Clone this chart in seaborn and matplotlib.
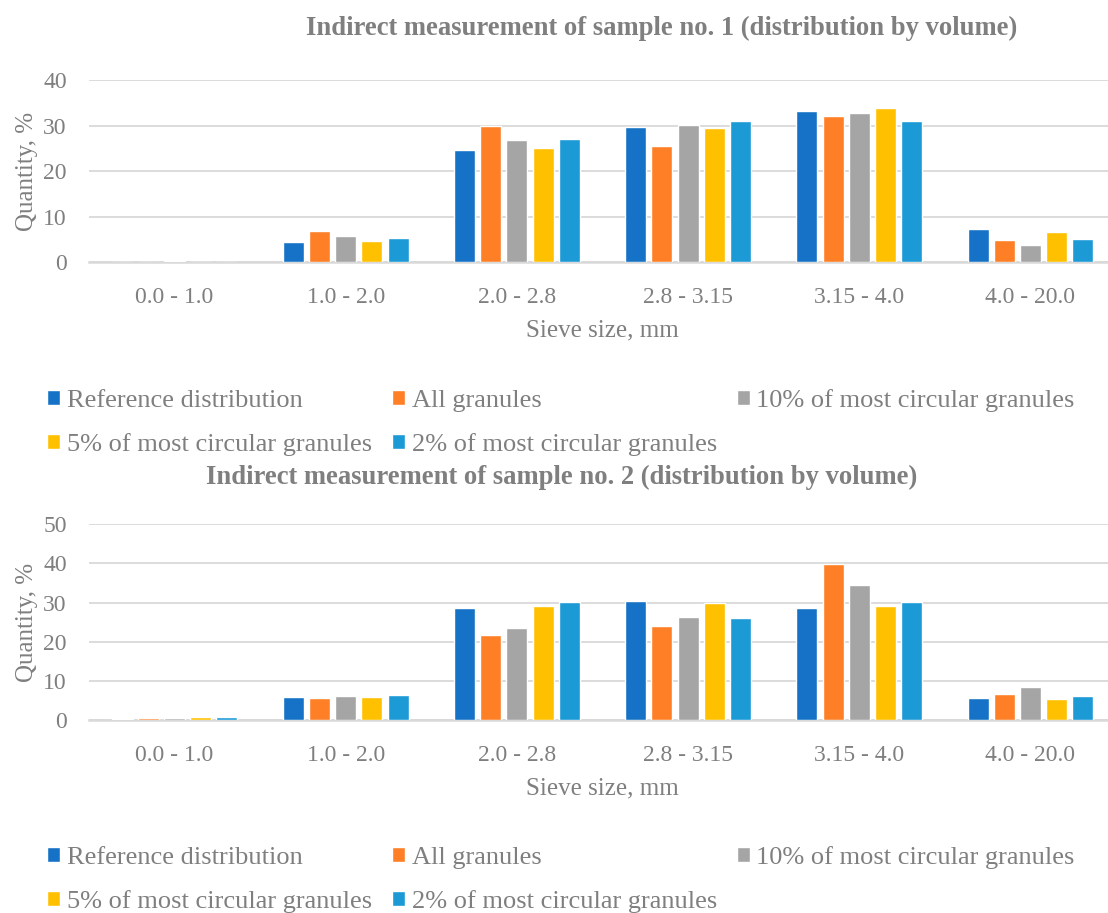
import matplotlib
matplotlib.use("Agg")
import matplotlib.pyplot as plt
import seaborn as sns
import pandas as pd

# Sieve fractions (mm) and measured volume shares (%)
sieve_sizes = ["0.0 - 1.0", "1.0 - 2.0", "2.0 - 2.8", "2.8 - 3.15", "3.15 - 4.0", "4.0 - 20.0"]
series_names = [
    "Reference distribution",
    "All granules",
    "10% of most circular granules",
    "5% of most circular granules",
    "2% of most circular granules",
]

# Sample no. 1
s1_reference = [0.0, 4.4, 24.6, 29.7, 33.3, 7.4]
s1_all = [0.0, 6.9, 30.0, 25.6, 32.2, 4.9]
s1_top10 = [0.3, 5.8, 26.9, 30.1, 32.7, 3.8]
s1_top5 = [0.0, 4.7, 25.1, 29.5, 33.8, 6.6]
s1_top2 = [0.15, 5.3, 27.0, 31.1, 30.9, 5.1]

# Sample no. 2
s2_reference = [0.4, 5.9, 28.7, 30.4, 28.6, 5.7]
s2_all = [0.5, 5.7, 21.8, 24.0, 39.7, 6.7]
s2_top10 = [0.6, 6.1, 23.6, 26.2, 34.4, 8.6]
s2_top5 = [0.8, 5.9, 29.0, 29.8, 29.1, 5.4]
s2_top2 = [0.8, 6.4, 30.2, 26.0, 30.1, 6.1]

palette = ["#1672C6", "#FF7F27", "#A5A5A5", "#FFC000", "#1B9AD6"]
text_color = "#7F7F7F"
grid_color = "#D9D9D9"

sns.set_theme(style="white")
plt.rcParams["font.family"] = ["Liberation Serif", "DejaVu Serif"]


def long_table(columns):
    rows = []
    for name, values in zip(series_names, columns):
        for size, v in zip(sieve_sizes, values):
            rows.append({"Sieve": size, "Series": name, "Value": v})
    return pd.DataFrame(rows)


W, H = 1108, 913
fig = plt.figure(figsize=(W / 100, H / 100), dpi=100)
ax_w = 1027 / W
ax_l = 89 / W
ax1 = fig.add_axes([ax_l, (H - 262.3) / H, ax_w, 182.3 / H])
ax2 = fig.add_axes([ax_l, (H - 720.3) / H, ax_w, 196.3 / H])

panels = [
    (ax1, [s1_reference, s1_all, s1_top10, s1_top5, s1_top2], 40,
     "Indirect measurement of sample no. 1 (distribution by volume)",
     (662, 28), (H - 389) / H),
    (ax2, [s2_reference, s2_all, s2_top10, s2_top5, s2_top2], 50,
     "Indirect measurement of sample no. 2 (distribution by volume)",
     (562, 477), (H - 846) / H),
]

for ax, cols, ymax, title, title_xy, leg_y in panels:
    df = long_table(cols)
    sns.barplot(data=df, x="Sieve", y="Value", hue="Series", palette=palette,
                order=sieve_sizes, hue_order=series_names,
                width=0.765, gap=0.2, ax=ax, legend=True, saturation=1)
    ax.set_xlim(-0.5, len(sieve_sizes) - 0.5)
    ax.set_ylim(0, ymax)
    ax.set_yticks(range(0, ymax + 1, 10))
    ax.yaxis.grid(True, color=grid_color, linewidth=1.3)
    ax.set_axisbelow(True)
    for side in ["top", "right", "left"]:
        ax.spines[side].set_visible(False)
    ax.spines["bottom"].set_color(grid_color)
    ax.spines["bottom"].set_linewidth(1.8)
    ax.spines["bottom"].set_zorder(0.5)
    ax.tick_params(axis="both", length=0, labelsize=17, labelcolor=text_color)
    ax.tick_params(axis="x", pad=18)
    ax.tick_params(axis="y", pad=16)
    ax.set_xlabel("Sieve size, mm", fontsize=18, color=text_color, labelpad=8)
    ax.set_ylabel("Quantity, %", fontsize=18, color=text_color, labelpad=4)

    fig.text(title_xy[0] / W, (H - title_xy[1]) / H, title, fontsize=19.2,
             fontweight="bold", color=text_color, ha="center", va="center")

    handles, labels = ax.get_legend_handles_labels()
    ax.get_legend().remove()
    order = [0, 3, 1, 4, 2]
    leg = fig.legend([handles[i] for i in order], [labels[i] for i in order],
                     loc="upper left", bbox_to_anchor=(47 / W, leg_y), ncol=3,
                     frameon=False, fontsize=19, handlelength=0.5, handleheight=0.5,
                     handletextpad=0.25, columnspacing=0.75, labelspacing=0.78,
                     borderpad=0, borderaxespad=0)
    for t in leg.get_texts():
        t.set_color(text_color)

fig.savefig("out.png", dpi=100)
